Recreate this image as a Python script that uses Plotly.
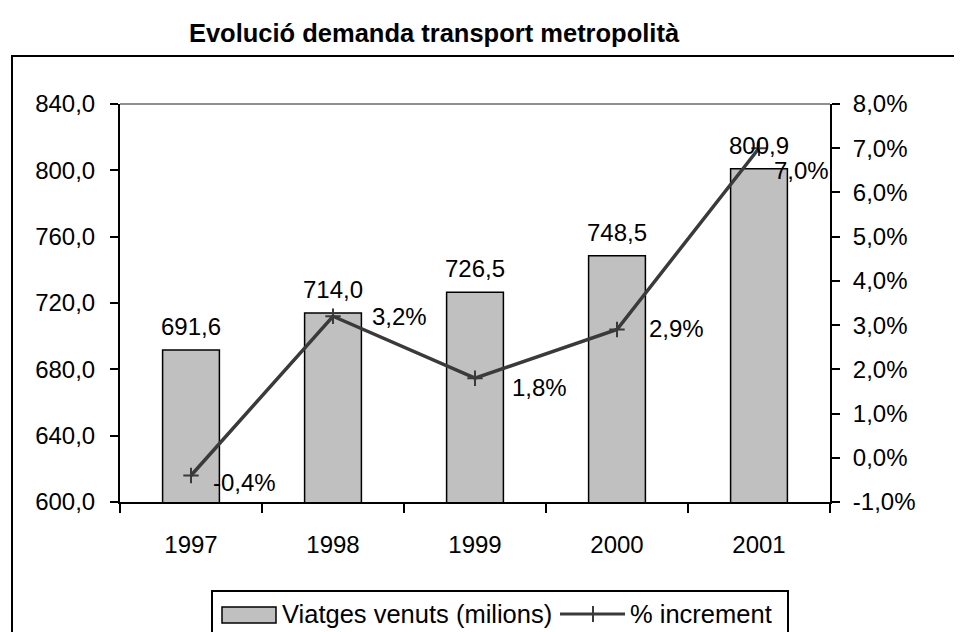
import plotly.graph_objects as go

years = ["1997", "1998", "1999", "2000", "2001"]
trips = [691.6, 714.0, 726.5, 748.5, 800.9]
pct = [-0.4, 3.2, 1.8, 2.9, 7.0]

left_ticks = [600, 640, 680, 720, 760, 800, 840]
right_ticks = [-1, 0, 1, 2, 3, 4, 5, 6, 7, 8]

FONT = "Liberation Sans, Arial, sans-serif"
FS = 24

W, H = 962, 632
OFF = 8  # page body margin: figure is drawn shifted by this many pixels

# plot area in reference (screen) pixels
L, R, T, B = 120, 830, 104, 502


def px(x):
    return (x - L) / (R - L)


def py(y):
    return (B - y) / (B - T)


def fmt(v, d=1):
    return f"{v:.{d}f}".replace(".", ",")


fig = go.Figure()

fig.add_trace(go.Bar(
    x=years, y=trips, width=0.4,
    marker=dict(color="#C0C0C0", line=dict(color="black", width=1.5)),
    name="Viatges venuts (milions)", showlegend=False,
))

fig.add_trace(go.Scatter(
    x=years, y=[p / 100 for p in pct], yaxis="y2", mode="lines+markers",
    line=dict(color="#3a3a3a", width=3.5),
    marker=dict(symbol="cross-thin", size=11, line=dict(color="#3a3a3a", width=2)),
    name="% increment", showlegend=False,
))

annotations = []
for i, v in enumerate(trips):
    annotations.append(dict(
        x=i, y=v, xref="x", yref="y", text=fmt(v), showarrow=False,
        xanchor="center", yanchor="bottom", yshift=8,
        font=dict(family=FONT, size=FS, color="black"),
    ))

shifts = [(20, -7), (37, 0), (35, -9), (30, 1), (13, -22)]
for i, (p, (dx, dy)) in enumerate(zip(pct, shifts)):
    annotations.append(dict(
        x=i, y=p / 100, xref="x", yref="y2", text=fmt(p) + "%", showarrow=False,
        xanchor="left", yanchor="middle", xshift=dx, yshift=dy,
        font=dict(family=FONT, size=FS, color="black"),
    ))

LFS = 25.5
# legend texts
annotations.append(dict(
    x=px(280), y=py(614), xref="paper", yref="paper", text="Viatges venuts (milions)",
    showarrow=False, xanchor="left", yanchor="middle",
    font=dict(family=FONT, size=LFS, color="black"),
))
annotations.append(dict(
    x=px(628), y=py(614), xref="paper", yref="paper", text="% increment",
    showarrow=False, xanchor="left", yanchor="middle",
    font=dict(family=FONT, size=LFS, color="black"),
))

shapes = [
    # outer chart border
    dict(type="rect", xref="paper", yref="paper", x0=px(12), y0=py(56), x1=px(1000), y1=py(700),
         line=dict(color="black", width=2), fillcolor="rgba(0,0,0,0)", layer="below"),
    # top plot-area border
    dict(type="line", xref="paper", yref="paper", x0=0, x1=1, y0=1, y1=1,
         line=dict(color="#909090", width=2)),
    # legend box
    dict(type="rect", xref="paper", yref="paper", x0=px(212), y0=py(591), x1=px(788), y1=py(660),
         line=dict(color="black", width=2), fillcolor="white", layer="below"),
    # legend bar swatch
    dict(type="rect", xref="paper", yref="paper", x0=px(222), y0=py(607), x1=px(276), y1=py(623),
         line=dict(color="black", width=1.5), fillcolor="#C0C0C0"),
    # legend line swatch
    dict(type="line", xref="paper", yref="paper", x0=px(560), y0=py(614), x1=px(625), y1=py(614),
         line=dict(color="#3a3a3a", width=3)),
    dict(type="line", xref="paper", yref="paper", x0=px(593), y0=py(606), x1=px(593), y1=py(622),
         line=dict(color="#3a3a3a", width=2)),
]

axis_font = dict(family=FONT, size=FS, color="black")

fig.update_layout(
    width=W, height=H,
    margin=dict(l=L - OFF, r=W - R + OFF, t=T - OFF, b=H - B + OFF, pad=0),
    paper_bgcolor="white", plot_bgcolor="white",
    separators=",.",
    font=dict(family=FONT, size=FS, color="black"),
    title=dict(text="<b>Evolució demanda transport metropolità</b>",
               x=px(434), xref="paper", xanchor="center",
               y=1 - (33 - OFF) / H, yref="container", yanchor="middle",
               font=dict(family=FONT, size=25.5, color="black")),
    xaxis=dict(type="category", categoryorder="array", categoryarray=years,
               range=[-0.5, 4.5], showline=True, linecolor="black", linewidth=2,
               ticks="outside", tickson="boundaries", ticklen=9, tickwidth=2, tickcolor="black",
               showgrid=False, zeroline=False, tickfont=axis_font, ticklabelstandoff=20),
    xaxis2=dict(overlaying="x", anchor="y", range=[-0.5, 4.5],
                tickvals=[-0.5, 0.5, 1.5, 2.5, 3.5, 4.5], ticks="inside", ticklen=7,
                tickwidth=2, tickcolor="black", showticklabels=False, showline=False,
                showgrid=False, zeroline=False, side="bottom"),
    yaxis=dict(range=[600, 840], tickvals=left_ticks, ticktext=[fmt(v) for v in left_ticks],
               showline=True, linecolor="black", linewidth=2, ticks="outside", ticklen=8,
               tickwidth=2, tickcolor="black", showgrid=False, zeroline=False,
               tickfont=axis_font, ticklabelstandoff=10),
    yaxis2=dict(overlaying="y", side="right", anchor="x", range=[-0.01, 0.08],
                tickvals=[v / 100 for v in right_ticks],
                ticktext=[fmt(v) + "%" for v in right_ticks],
                showline=True, linecolor="black", linewidth=2, ticks="outside", ticklen=8,
                tickwidth=2, tickcolor="black", showgrid=False, zeroline=False,
                tickfont=axis_font, ticklabelstandoff=8),
    yaxis3=dict(overlaying="y", side="left", anchor="x", range=[600, 840], tickvals=left_ticks,
                ticks="inside", ticklen=8, tickwidth=2, tickcolor="black",
                showticklabels=False, showline=False, showgrid=False, zeroline=False),
    yaxis4=dict(overlaying="y", side="right", anchor="x", range=[-0.01, 0.08],
                tickvals=[v / 100 for v in right_ticks], ticks="inside", ticklen=8, tickwidth=2,
                tickcolor="black", showticklabels=False, showline=False, showgrid=False,
                zeroline=False),
    annotations=annotations,
    shapes=shapes,
    showlegend=False,
)

fig.write_html("out.html")
